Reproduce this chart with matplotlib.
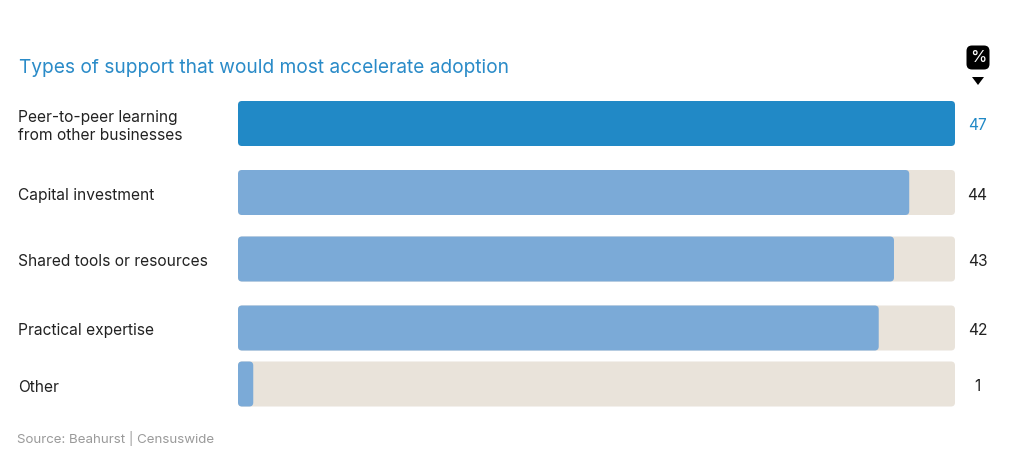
import matplotlib
matplotlib.use("Agg")
import matplotlib.pyplot as plt
from matplotlib.patches import FancyBboxPatch, Polygon
from matplotlib.transforms import Affine2D

categories = ["Peer-to-peer learning\nfrom other businesses", "Capital investment",
              "Shared tools or resources", "Practical expertise", "Other"]
values = [47, 44, 43, 42, 1]
max_value = 47

# layout (pixel rows of the bar centres)
row_y = [123.5, 192.5, 259, 328, 384]
bar_h = 45

plt.rcParams["font.family"] = ["Inter", "DejaVu Sans"]

W, H = 1024, 472
fig = plt.figure(figsize=(W / 100, H / 100), dpi=100)
fig.patch.set_facecolor("white")

x0, x1 = 238, 955
ax = fig.add_axes([x0 / W, 0, (x1 - x0) / W, 1])
ax.set_xlim(0, max_value)
ax.set_ylim(H, 0)
ax.axis("off")

px_per_unit = (x1 - x0) / max_value
r = 4 / px_per_unit

for i, (cat, v, y) in enumerate(zip(categories, values, row_y)):
    top = y - bar_h / 2
    bg = FancyBboxPatch((0, top), max_value, bar_h,
                        boxstyle=f"round,pad=0,rounding_size={r}",
                        mutation_aspect=px_per_unit, fc="#E9E3DA", ec="none")
    ax.add_patch(bg)
    col = "#2189C6" if i == 0 else "#7BAAD7"
    fg = FancyBboxPatch((0, top), v, bar_h,
                        boxstyle=f"round,pad=0,rounding_size={r}",
                        mutation_aspect=px_per_unit, fc=col, ec="none")
    ax.add_patch(fg)
    fig.text(18 / W, 1 - (y + 3) / H, cat, ha="left", va="center", fontsize=11.2,
             color="#222222", linespacing=1.2)
    fig.text(977.5 / W, 1 - (y + 2.5) / H, f"{v}", ha="center", va="center", fontsize=11.2,
             color="#2189C6" if i == 0 else "#222222")

fig.text(19 / W, 1 - 68 / H, "Types of support that would most accelerate adoption",
         ha="left", va="center", fontsize=13.8, color="#2A8BC8")
fig.text(17 / W, 1 - 439 / H, "Source: Beahurst | Censuswide", ha="left",
         va="center", fontsize=9.6, color="#9A9A9A")

# % badge (pixel coordinates, y downwards)
pix = Affine2D().scale(1 / W, -1 / H).translate(0, 1) + fig.transFigure
badge = FancyBboxPatch((966.5, 45.5), 23, 24, boxstyle="round,pad=0,rounding_size=5.5",
                       fc="black", ec="none", transform=pix)
fig.patches.append(badge)
fig.text(978 / W, 1 - 57.5 / H, "%", ha="center", va="center", fontsize=12,
         color="white")
tri = Polygon([[972, 77], [984, 77], [978, 85]], closed=True, fc="black",
              ec="none", transform=pix)
fig.patches.append(tri)

fig.savefig("out.png", dpi=100)
